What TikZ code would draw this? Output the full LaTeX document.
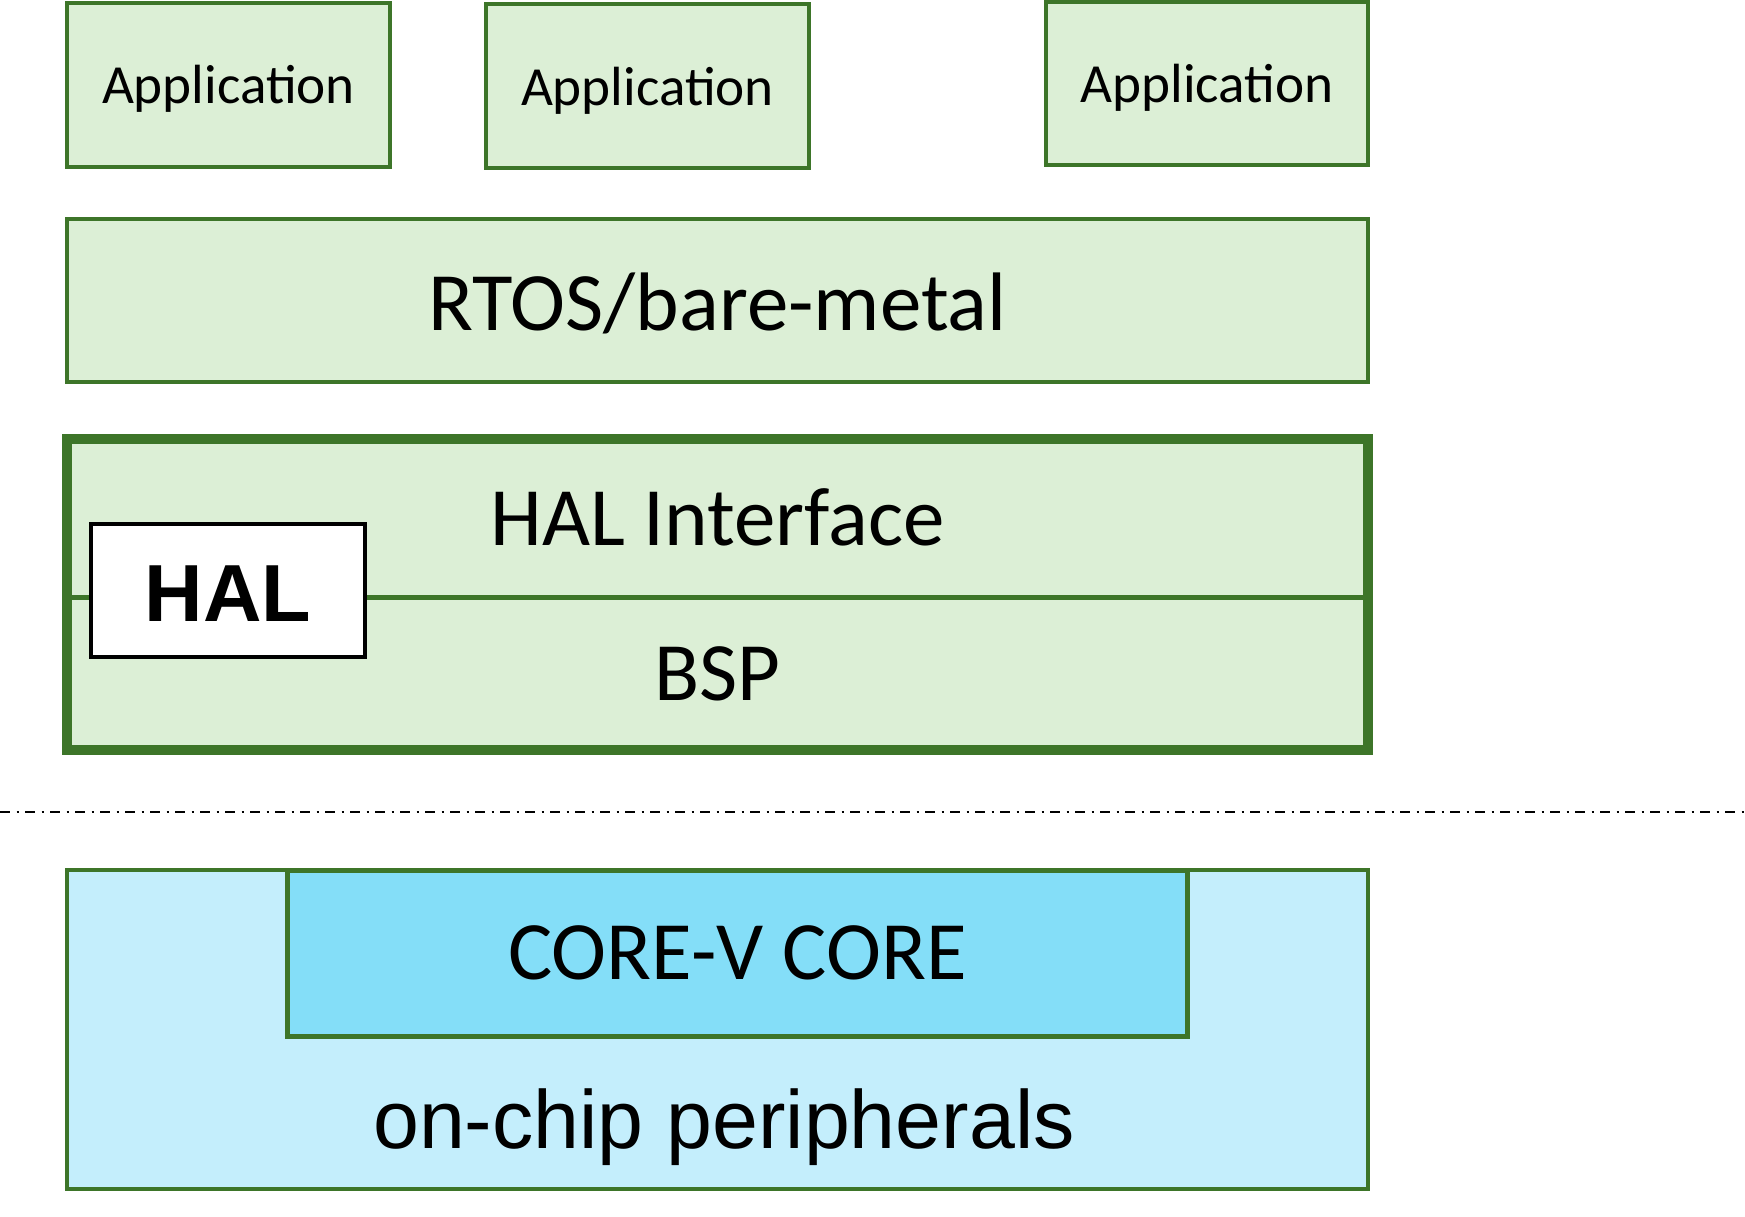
\documentclass[tikz,border=0pt]{standalone}
\usepackage{fontspec}
\setmainfont{Liberation Sans}
\newfontfamily\carlito{Carlito}
\definecolor{lg}{HTML}{DCEFD6}
\definecolor{bord}{HTML}{3D7529}
\definecolor{lb}{HTML}{C4EEFC}
\definecolor{cb}{HTML}{84DEF8}
\tikzset{
  box/.style={draw=bord, fill=lg, line width=4pt, inner sep=0pt, minimum width=#1},
  lbl/.style={anchor=base, inner sep=0pt, font=\carlito\fontsize{83}{90}\selectfont},
  applbl/.style={anchor=base, inner sep=0pt, font=\carlito\fontsize{55.2}{60}\selectfont},
}
\begin{document}
\begin{tikzpicture}[x=1pt,y=-1pt]
\useasboundingbox (0,0) rectangle (1745,1217);
% applications
\node[box=323pt, minimum height=164pt] (app1) at (228.5,85) {};
\node[box=323pt, minimum height=164pt] (app2) at (647.5,86) {};
\node[box=322pt, minimum height=163pt] (app3) at (1207,83.5) {};
\node[applbl] (t1) at (228.5,103.5) {Application};
\node[applbl] (t2) at (647.5,105.5) {Application};
\node[applbl] (t3) at (1207,102.5) {Application};
% RTOS
\node[box=1301pt, minimum height=163pt] (rtos) at (717.5,300.5) {};
\node[lbl] (trtos) at (717.5,330.5) {RTOS/bare-metal};
% HAL block
\node[box=1301pt, minimum height=311pt, line width=10pt] (hal) at (717.5,594.5) {};
\coordinate (ml) at (67,597);
\coordinate (mr) at (1368,597);
\draw[bord, line width=5pt] (ml) -- (mr);
\node[lbl] (thalif) at (717.5,545) {HAL Interface};
\node[lbl] (tbsp) at (717.5,700) {BSP};
\node[draw=black, fill=white, line width=4pt, inner sep=0pt, minimum width=274pt, minimum height=133pt] (halbox) at (228,590.5) {};
\node[anchor=base, inner sep=0pt, font=\bfseries\fontsize{81}{88}\selectfont] (thal) at (228,621) {HAL};
% separator
\coordinate (sl) at (0,812);
\coordinate (sr) at (1745,812);
\draw[line width=2.2pt, dash pattern=on 10pt off 6.5pt on 2pt off 6.5pt] (sl) -- (sr);
% hardware
\node[box=1301pt, minimum height=319pt, fill=lb] (chip) at (717.5,1029.5) {};
\node[box=900pt, minimum height=166pt, fill=cb, line width=5pt] (core) at (737.5,953) {};
\node[lbl] (tcore) at (737.5,979) {CORE-V CORE};
\node[anchor=base, inner sep=0pt, font=\fontsize{82.5}{90}\selectfont] (tchip) at (724,1148.5) {on-chip peripherals};
\end{tikzpicture}
\end{document}
